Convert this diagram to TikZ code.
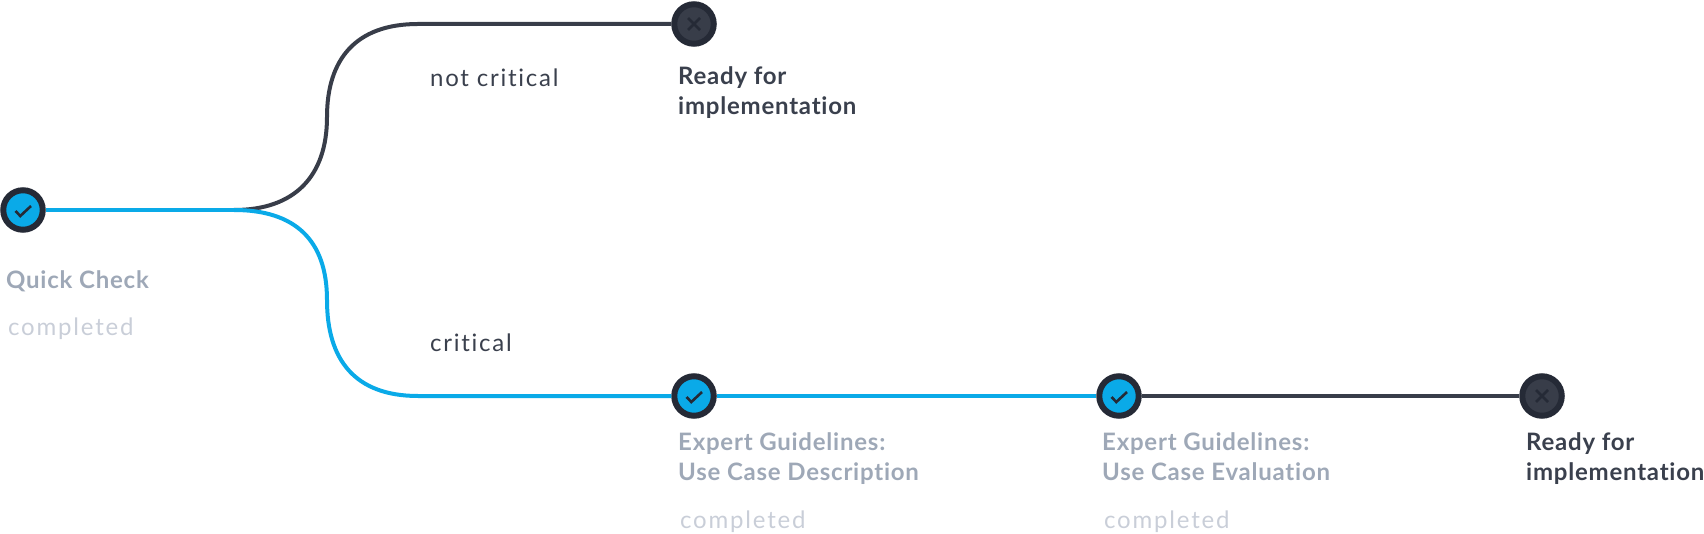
\documentclass[tikz,border=0pt]{standalone}
\usepackage{fontspec}
\usetikzlibrary{calc}
\setmainfont[Ligatures=NoCommon]{Lato}
\definecolor{blueC}{HTML}{0AAAE8}
\definecolor{ringC}{HTML}{252A36}
\definecolor{darkC}{HTML}{383D49}
\definecolor{greyC}{HTML}{9EA8B7}
\definecolor{lightC}{HTML}{C9CED8}
\definecolor{ink}{HTML}{3A404D}
\tikzset{x=1pt,y=-1pt,
  okstep/.style={circle,draw=ringC,line width=6pt,fill=blueC,minimum size=39.5pt,inner sep=0pt},
  endstep/.style={circle,draw=ringC,line width=6pt,fill=darkC,minimum size=39.5pt,inner sep=0pt},
  blueline/.style={draw=blueC,line width=4pt},
  darkline/.style={draw=darkC,line width=4pt},
  marker/.style={draw=ringC,line width=2.6pt},
  lab/.style={anchor=base west,inner sep=0pt,align=left,font=\fontsize{24}{30}\selectfont\bfseries\addfontfeatures{LetterSpace=3.2}},
  done/.style={lab,text=greyC},
  ready/.style={lab,text=ink},
  status/.style={anchor=base west,inner sep=0pt,text=lightC,font=\fontsize{24}{30}\selectfont\addfontfeatures{LetterSpace=7.5}},
  branch/.style={anchor=base west,inner sep=0pt,text=ink,font=\fontsize{24}{30}\selectfont\addfontfeatures{LetterSpace=7.2}}
}
\begin{document}
\begin{tikzpicture}
\useasboundingbox (0,0) rectangle (1704,534);
\coordinate (fork) at (234,210);
\coordinate (topend) at (418,24);
\coordinate (botend) at (418,396);
\node[okstep] (qc) at (23,210) {};
\node[endstep] (r1) at (694,24) {};
\node[okstep] (eg1) at (694,396) {};
\node[okstep] (eg2) at (1119,396) {};
\node[endstep] (r2) at (1542,396) {};
\draw[darkline] (fork) .. controls (295,210) and (327,176) .. (327,117)
  .. controls (327,60) and (355,24) .. (topend) -- (r1);
\draw[blueline] (fork) .. controls (295,210) and (327,240) .. (327,300)
  .. controls (327,360) and (355,396) .. (botend) -- (eg1);
\draw[blueline] (qc) -- (fork);
\draw[blueline] (eg1) -- (eg2);
\draw[darkline] (eg2) -- (r2);
\foreach \n in {qc,eg1,eg2}{
  \draw[marker] ($(\n)+(-7.5,1)$) -- ($(\n)+(-2.7,6)$) -- ($(\n)+(8,-4)$);
}
\foreach \n in {r1,r2}{
  \draw[marker] ($(\n)+(-6,-6)$) -- ($(\n)+(6,6)$) ($(\n)+(-6,6)$) -- ($(\n)+(6,-6)$);
}
\node[done] (t1) at (6,289) {Quick Check};
\node[status] (s1) at (8,335) {completed};
\node[branch] (b1) at (430,87) {not critical};
\node[branch] (b2) at (430,352) {critical};
\node[ready] (t2) at (678,115) {Ready for\\implementation};
\node[done] (t3) at (678,480) {Expert Guidelines:\\Use Case Description};
\node[status] (s3) at (680,528) {completed};
\node[done] (t4) at (1102,480) {Expert Guidelines:\\Use Case Evaluation};
\node[status] (s4) at (1104,528) {completed};
\node[ready] (t5) at (1526,480) {Ready for\\implementation};
\end{tikzpicture}
\end{document}
